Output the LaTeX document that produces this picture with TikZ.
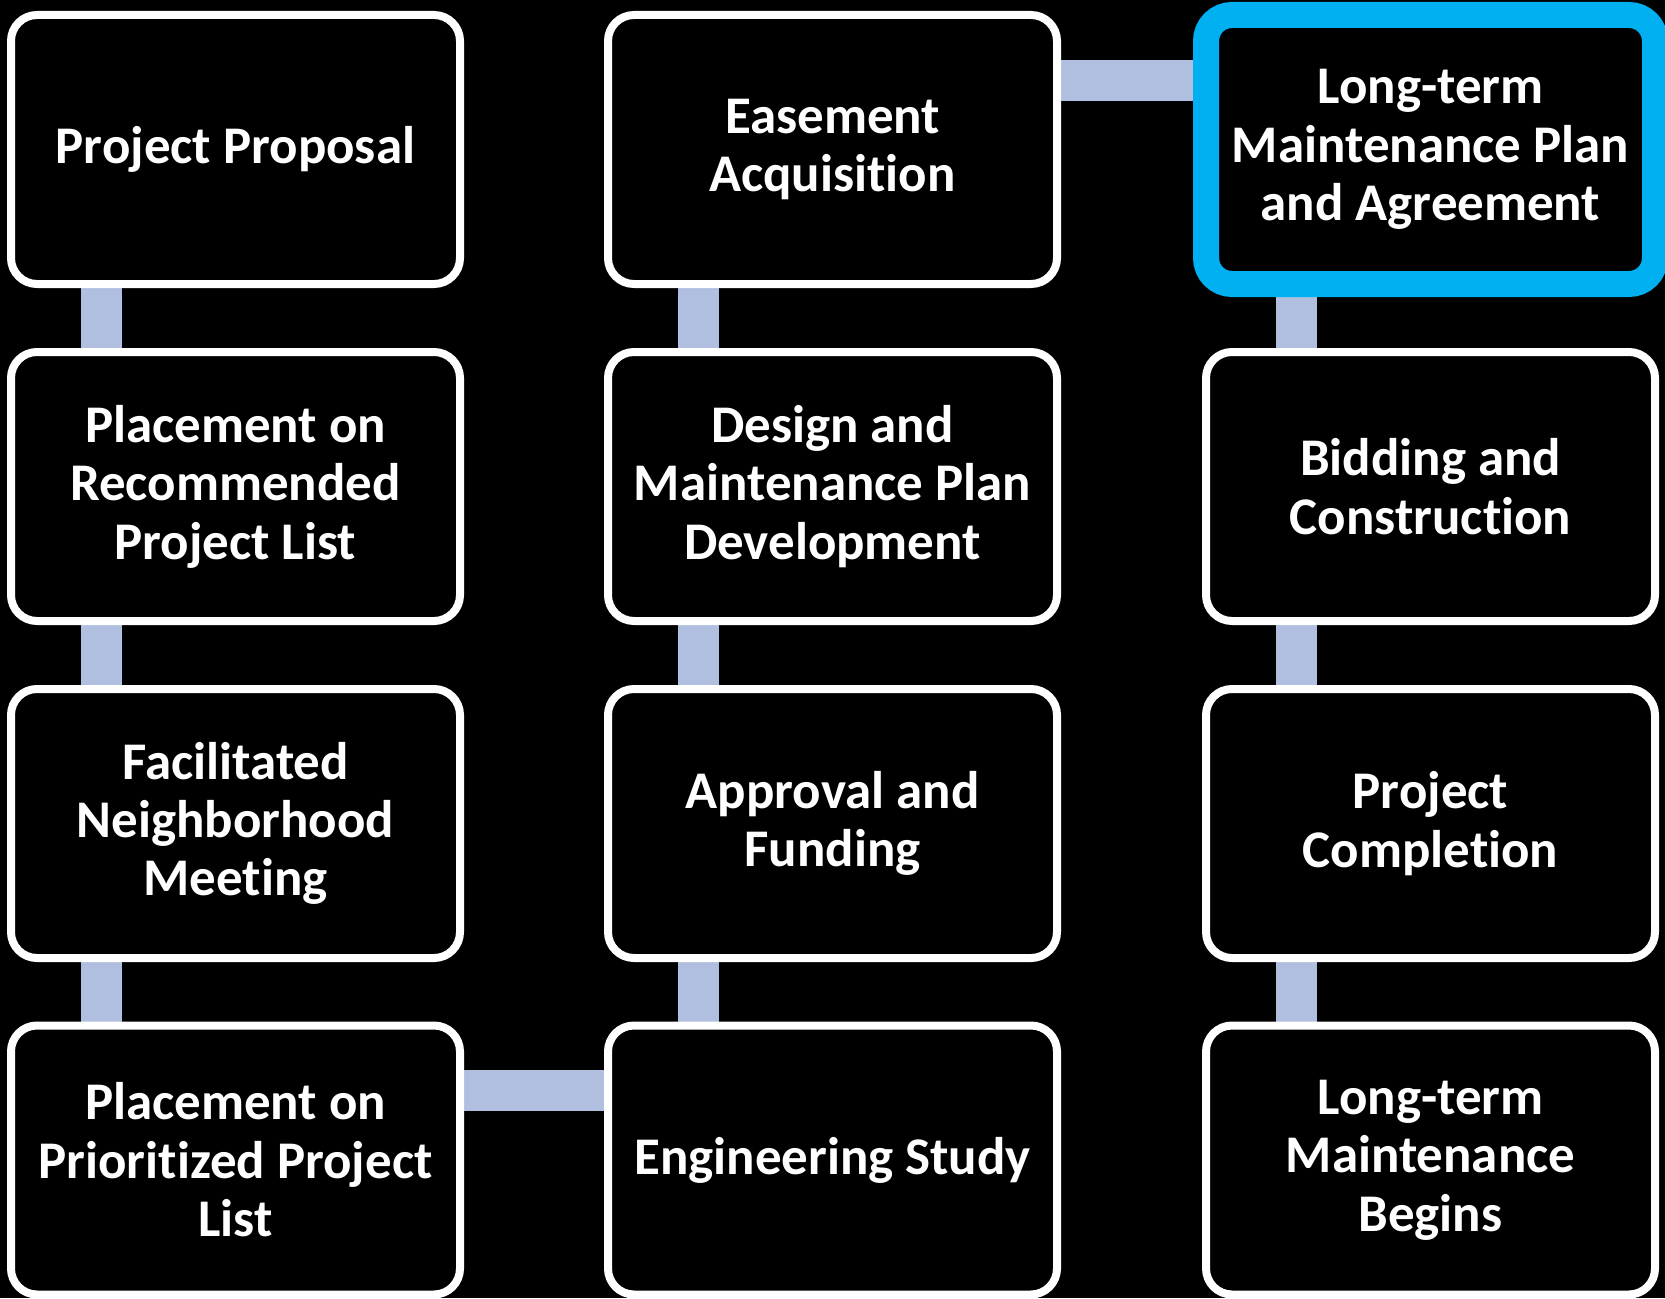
\documentclass[tikz,border=0pt]{standalone}
\usepackage{fontspec}
\setmainfont{Carlito}[Ligatures=NoCommon]
\usetikzlibrary{positioning}
\pgfdeclarelayer{bg}
\pgfdeclarelayer{conn}
\pgfsetlayers{bg,conn,main}
\definecolor{connc}{RGB}{176,190,224}
\definecolor{hilite}{RGB}{0,176,240}
\tikzset{
  stepbox/.style={draw=white, line width=6pt, fill=black, rounded corners=19.5pt,
    minimum width=336.75pt, minimum height=201.75pt, inner sep=0pt,
    text=white, align=center,
    font=\fontsize{39.7pt}{43.8pt}\selectfont\bfseries},
  hibox/.style={stepbox, draw=hilite, line width=19.5pt},
  link/.style={draw=connc, line width=30.75pt, line cap=butt}
}
\begin{document}
\begin{tikzpicture}[x=0.75pt, y=-0.75pt]
\begin{pgfonlayer}{bg}
\fill[black] (0,0) rectangle (1665,1298);
\end{pgfonlayer}
\useasboundingbox (0,0) rectangle (1665,1298);
% column 1
\node[stepbox] (a1) at (235.5,149.5) {Project Proposal};
\node[stepbox] (a2) at (235.5,486.5) {Placement on\\Recommended\\Project List};
\node[stepbox] (a3) at (235.5,823.5) {Facilitated\\Neighborhood\\Meeting};
\node[stepbox] (a4) at (235.5,1160) {Placement on\\Prioritized Project\\List};
% column 2
\node[stepbox] (b1) at (832.5,149.5) {Easement\\Acquisition};
\node[stepbox] (b2) at (832.5,486.5) {Design and\\Maintenance Plan\\Development};
\node[stepbox] (b3) at (832.5,823.5) {Approval and\\Funding};
\node[stepbox] (b4) at (832.5,1160) {Engineering Study};
% column 3
\node[hibox] (c1) at (1430.5,149.5) {Long-term\\Maintenance Plan\\and Agreement};
\node[stepbox] (c2) at (1430.5,486.5) {Bidding and\\Construction};
\node[stepbox] (c3) at (1430.5,823.5) {Project\\Completion};
\node[stepbox] (c4) at (1430.5,1160) {Long-term\\Maintenance\\Begins};
% connectors
\begin{pgfonlayer}{conn}
\foreach \u/\v in {a1/a2,a2/a3,a3/a4,b4/b3,b3/b2,b2/b1,c1/c2,c2/c3,c3/c4}{
  \path[link] ([xshift=-100.5pt]\u.center) -- ([xshift=-100.5pt]\v.center);
}
\path[link] ([yshift=52pt]a4.center) -- ([yshift=52pt]b4.center);
\path[link] ([yshift=52.1pt]b1.center) -- ([yshift=52.1pt]c1.center);
\end{pgfonlayer}
\end{tikzpicture}
\end{document}
